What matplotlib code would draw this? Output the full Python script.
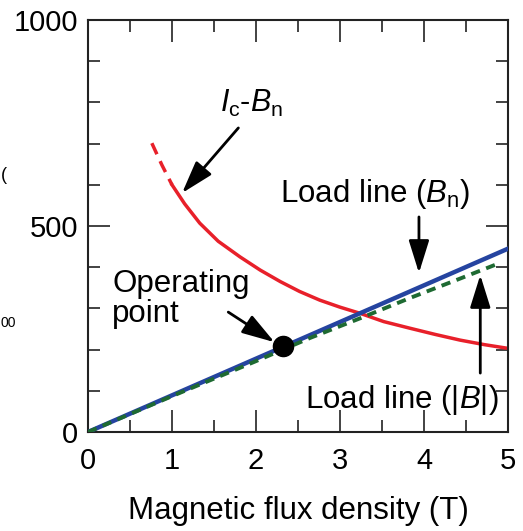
import matplotlib
matplotlib.use("Agg")
import matplotlib.pyplot as plt
from matplotlib.ticker import MultipleLocator

plt.rcParams['font.family'] = ['Liberation Sans', 'DejaVu Sans']
plt.rcParams['mathtext.fontset'] = 'custom'
plt.rcParams['mathtext.rm'] = 'Liberation Sans'
plt.rcParams['mathtext.it'] = 'Liberation Sans:italic'

# Ic-Bn curve
ic_dash_b = [0.76, 0.88, 1.0]
ic_dash_i = [701, 648, 600]
ic_b = [1.0, 1.15, 1.33, 1.55, 1.81, 2.05, 2.29, 2.52, 2.76, 3.0, 3.24, 3.52, 3.83, 4.13, 4.43, 4.72, 5.0]
ic_i = [600, 554, 507, 463, 425, 393, 365, 341, 320, 303, 288, 268, 252, 237, 223, 212, 203]

# load lines
load_bn_b = [0, 5.0]
load_bn_i = [0, 445]
load_abs_b = [0, 1.0, 2.0, 2.64, 3.24, 3.83, 4.4, 4.9]
load_abs_i = [0, 87, 172, 228, 276, 325, 370, 410]

# operating point
op_b = [2.32]
op_i = [209]

fig = plt.figure(figsize=(5.23, 5.31), dpi=100)
ax = fig.add_axes([88 / 523, 99 / 531, 420 / 523, 412 / 531])

ax.plot(ic_dash_b, ic_dash_i, color='#e8202a', lw=2.5, ls=(0, (3.5, 2.2)))
ax.plot(ic_b, ic_i, color='#e8202a', lw=2.5)
ax.plot(load_bn_b, load_bn_i, color='#2544a0', lw=3.2, zorder=3)
ax.plot(load_abs_b, load_abs_i, color='#1e6a32', lw=2.8, ls=(0, (2.4, 1.7)), zorder=4)
ax.plot(op_b, op_i, 'o', color='black', ms=14.5, zorder=5)

ax.set_xlim(0, 5)
ax.set_ylim(0, 1000)
ax.xaxis.set_major_locator(MultipleLocator(1))
ax.xaxis.set_minor_locator(MultipleLocator(0.5))
ax.yaxis.set_major_locator(MultipleLocator(500))
ax.yaxis.set_minor_locator(MultipleLocator(100))
ax.tick_params(which='both', direction='in', top=True, right=True, width=1.2, color='#222222')
ax.tick_params(which='major', length=16, labelsize=21)
ax.tick_params(axis='x', which='major', pad=11)
ax.tick_params(axis='y', which='major', pad=7)
ax.tick_params(which='minor', length=8.5)
for s in ax.spines.values():
    s.set_linewidth(1.5)
    s.set_color('#222222')

ax.set_xlabel('Magnetic flux density (T)', fontsize=22.5, labelpad=15)

arrow = dict(arrowstyle='-|>,head_length=0.8,head_width=0.25', color='black', lw=2,
             mutation_scale=25, shrinkA=0, shrinkB=0)
ax.annotate('', xy=(1.12, 580), xytext=(1.79, 738), arrowprops=arrow)
ax.text(1.95, 798, r'$\mathit{I}_\mathrm{c}$-$\mathit{B}_\mathrm{n}$', fontsize=22, ha='center', va='center')

ax.annotate('', xy=(2.22, 218), xytext=(1.67, 291), arrowprops=arrow)
ax.text(0.29, 267, 'Operating\npoint', fontsize=22.5, ha='left', va='baseline', linespacing=1.0)

ax.annotate('', xy=(3.94, 386), xytext=(3.94, 522), arrowprops=arrow)
ax.text(3.42, 558, r'Load line ($\mathit{B}_\mathrm{n}$)', fontsize=22.5, ha='center', va='baseline')

ax.annotate('', xy=(4.67, 381), xytext=(4.67, 143), arrowprops=arrow)
ax.text(3.73, 58, r'Load line (|$\mathit{B}$|)', fontsize=22.5, ha='center', va='baseline')

# small fragments at the left edge
fig.text(0.001, 1 - 176 / 531, '(', fontsize=13, ha='left', va='center')
fig.text(0.001, 1 - 323 / 531, '00', fontsize=10, ha='left', va='center')

fig.savefig('out.png', dpi=100)
